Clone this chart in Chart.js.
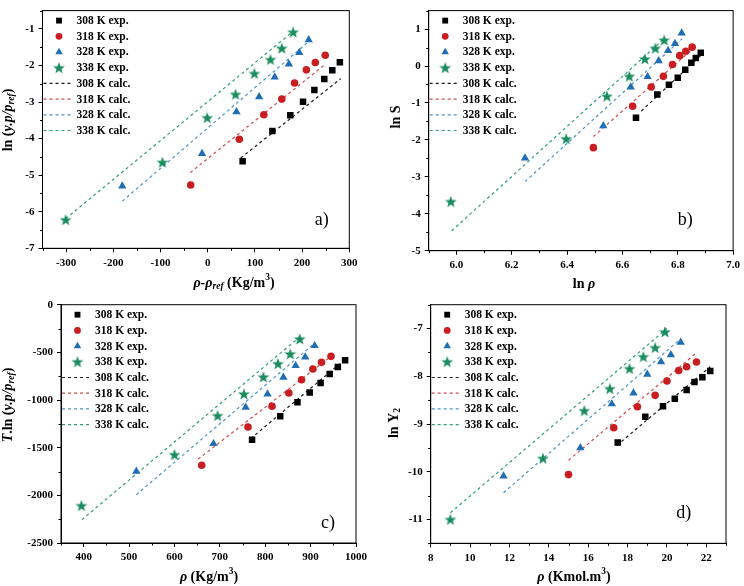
<!DOCTYPE html>
<html>
<head>
<meta charset="utf-8">
<script src="https://cdn.jsdelivr.net/npm/chart.js@4.4.1/dist/chart.umd.min.js"></script>
<style>
  html, body { margin: 0; padding: 0; background: #fff; }
  #wrap { position: relative; width: 744px; height: 586px; overflow: hidden; }
  canvas { position: absolute; }
</style>
</head>
<body>
<div id="wrap">
  <canvas id="chartA" width="372" height="293" style="left:0;top:0"></canvas>
  <canvas id="chartB" width="372" height="293" style="left:372px;top:0"></canvas>
  <canvas id="chartC" width="372" height="293" style="left:0;top:293px"></canvas>
  <canvas id="chartD" width="372" height="293" style="left:372px;top:293px"></canvas>
</div>
<script>
// series names
const temps = ['308 K', '318 K', '328 K', '338 K'];

// a) ln(y.p/p_ref) vs rho - rho_ref
const aX308 = [74, 137, 175, 202, 226, 247, 264, 280];
const aY308 = [-4.62, -3.79, -3.36, -2.99, -2.67, -2.37, -2.13, -1.91];
const aX318 = [-36, 67, 119, 157, 184, 209, 228, 249];
const aY318 = [-5.27, -4.02, -3.35, -2.92, -2.48, -2.12, -1.92, -1.72];
const aX328 = [-181, -12, 61, 109, 142, 172, 194, 214];
const aY328 = [-5.30, -4.41, -3.27, -2.86, -2.32, -1.96, -1.65, -1.30];
const aX338 = [-301, -96, -1, 59, 99, 133, 157, 181];
const aY338 = [-6.22, -4.65, -3.43, -2.79, -2.22, -1.84, -1.53, -1.09];
const aCalcX308 = [70, 282], aCalcY308 = [-4.53, -2.36];
const aCalcX318 = [-37, 247], aCalcY318 = [-4.93, -1.99];
const aCalcX328 = [-181, 211], aCalcY328 = [-5.71, -1.38];
const aCalcX338 = [-301, 177], aCalcY338 = [-6.19, -1.11];
const aXTicks = [-300, -200, -100, 0, 100, 200, 300];
const aYTicks = [-7, -6, -5, -4, -3, -2, -1];

// b) ln S vs ln rho
const bX308 = [6.649, 6.726, 6.768, 6.800, 6.827, 6.849, 6.865, 6.883];
const bY308 = [-1.40, -0.77, -0.51, -0.32, -0.10, 0.09, 0.22, 0.36];
const bX318 = [6.495, 6.637, 6.704, 6.748, 6.781, 6.807, 6.829, 6.852];
const bY318 = [-2.21, -1.09, -0.57, -0.28, 0.04, 0.28, 0.40, 0.51];
const bX328 = [6.248, 6.531, 6.630, 6.691, 6.731, 6.765, 6.790, 6.814];
const bY328 = [-2.49, -1.62, -0.57, -0.29, 0.14, 0.42, 0.61, 0.89];
const bX338 = [5.980, 6.397, 6.544, 6.625, 6.681, 6.719, 6.751];
const bY338 = [-3.67, -1.97, -0.82, -0.28, 0.19, 0.48, 0.70];
const bCalcX308 = [6.668, 6.885], bCalcY308 = [-1.22, 0.30];
const bCalcX318 = [6.495, 6.852], bCalcY318 = [-1.91, 0.45];
const bCalcX328 = [6.248, 6.816], bCalcY328 = [-3.13, 0.74];
const bCalcX338 = [5.983, 6.745], bCalcY338 = [-4.46, 0.70];
const bXTicks = [6.0, 6.2, 6.4, 6.6, 6.8, 7.0];
const bYTicks = [-5, -4, -3, -2, -1, 0, 1];

// c) T.ln(y.p/p_ref) vs rho (Kg/m3)
const cX308 = [771, 833, 871, 898, 922, 942, 960, 976];
const cY308 = [-1416, -1171, -1024, -920, -822, -727, -654, -584];
const cX318 = [660, 762, 815, 852, 880, 905, 924, 945];
const cY318 = [-1685, -1283, -1066, -927, -787, -675, -605, -542];
const cX328 = [516, 686, 757, 805, 840, 867, 888, 909];
const cY328 = [-1748, -1458, -1077, -937, -762, -640, -549, -430];
const cX338 = [395, 600, 695, 753, 796, 828, 855, 876];
const cY338 = [-2108, -1573, -1164, -937, -759, -619, -517, -360];
const cCalcX308 = [768, 978], cCalcY308 = [-1405, -565];
const cCalcX318 = [652, 948], cCalcY318 = [-1620, -530];
const cCalcX328 = [516, 905], cCalcY328 = [-1993, -420];
const cCalcX338 = [396, 878], cCalcY338 = [-2255, -330];
const cXTicks = [400, 500, 600, 700, 800, 900, 1000];
const cYTicks = [-2500, -2000, -1500, -1000, -500, 0];

// d) ln Y2 vs rho (Kmol.m3)
const dX308 = [17.5, 18.9, 19.8, 20.4, 21.0, 21.4, 21.8, 22.2];
const dY308 = [-9.39, -8.85, -8.63, -8.47, -8.29, -8.12, -8.02, -7.89];
const dX318 = [15.0, 17.3, 18.5, 19.4, 20.0, 20.6, 21.0, 21.5];
const dY318 = [-10.06, -9.08, -8.64, -8.40, -8.10, -7.88, -7.80, -7.70];
const dX328 = [11.7, 15.6, 17.2, 18.3, 19.0, 19.7, 20.2, 20.7];
const dY328 = [-10.09, -9.50, -8.58, -8.35, -7.96, -7.70, -7.55, -7.29];
const dX338 = [9.0, 13.7, 15.8, 17.1, 18.1, 18.8, 19.4, 19.9];
const dY338 = [-11.0, -9.72, -8.72, -8.26, -7.84, -7.59, -7.40, -7.07];
const dCalcX308 = [17.45, 22.2], dCalcY308 = [-9.45, -7.80];
const dCalcX318 = [15.0, 21.5], dCalcY318 = [-9.76, -7.51];
const dCalcX328 = [11.7, 20.6], dCalcY328 = [-10.44, -7.25];
const dCalcX338 = [9.0, 20.0], dCalcY338 = [-10.86, -7.0];
const dXTicks = [8, 10, 12, 14, 16, 18, 20, 22];
const dYTicks = [-11, -10, -9, -8, -7];

const FONT = "'Liberation Serif', 'Times New Roman', serif";
Chart.defaults.font.family = FONT;
Chart.defaults.font.weight = 'bold';
Chart.defaults.font.size = 11;
Chart.defaults.color = '#000';

const expColors = ['#000000', '#c81e22', '#1f6db3', '#1b8c5e'];
const calcColors = ['#1a1a1a', '#d24a4c', '#4a93c9', '#2f9e7a'];

// filled five point star for the 338 K markers
function makeStar(color) {
  const c = document.createElement('canvas');
  c.width = 14; c.height = 14;
  const g = c.getContext('2d');
  g.beginPath();
  for (let i = 0; i < 10; i++) {
    const r = i % 2 ? 2.6 : 6.2;
    const a = -Math.PI / 2 + i * Math.PI / 5;
    g.lineTo(7 + r * Math.cos(a), 7.5 + r * Math.sin(a));
  }
  g.closePath();
  g.fillStyle = color;
  g.fill();
  return c;
}
const markerStyles = ['rect', 'circle', 'triangle', makeStar(expColors[3])];
const markerRadii = [4.6, 3.8, 4.8, 6];

function pts(xs, ys) {
  return xs.map((x, i) => ({ x: x, y: ys[i] }));
}

function buildDatasets(expX, expY, calcX, calcY) {
  const ds = [];
  temps.forEach((t, i) => ds.push({
    label: t + ' exp.',
    data: pts(expX[i], expY[i]),
    showLine: false,
    pointStyle: markerStyles[i],
    pointRadius: markerRadii[i],
    pointBorderWidth: 0,
    backgroundColor: expColors[i],
    borderColor: expColors[i]
  }));
  temps.forEach((t, i) => ds.push({
    label: t + ' calc.',
    data: pts(calcX[i], calcY[i]),
    showLine: true,
    borderColor: calcColors[i],
    borderWidth: 1.2,
    borderDash: [3, 3],
    pointRadius: 0
  }));
  return ds;
}

function segFont(s) {
  const small = s.sub || s.sup;
  return (s.it ? 'italic ' : '') + 'bold ' + (small ? 9.5 : 14) + 'px ' + FONT;
}

function drawRich(ctx, segs, cx, cy, rotate) {
  ctx.save();
  ctx.translate(cx, cy);
  if (rotate) ctx.rotate(-Math.PI / 2);
  ctx.textAlign = 'left';
  ctx.textBaseline = 'middle';
  ctx.fillStyle = '#000';
  let total = 0;
  segs.forEach(s => { ctx.font = segFont(s); total += ctx.measureText(s.t).width; });
  let x = -total / 2;
  segs.forEach(s => {
    ctx.font = segFont(s);
    const dy = s.sub ? 4 : (s.sup ? -5 : 0);
    ctx.fillText(s.t, x, dy);
    x += ctx.measureText(s.t).width;
  });
  ctx.restore();
}

// frame, minor ticks, in-plot legend, axis titles and panel tag
function decorPlugin(cfg) {
  return {
    id: 'decor',
    afterDatasetsDraw(chart) {
      const { ctx, chartArea } = chart;
      ctx.save();
      ctx.textBaseline = 'middle';
      ctx.textAlign = 'left';
      chart.data.datasets.forEach((ds, i) => {
        const y = chartArea.top + 10 + i * 15.7;
        if (ds.showLine) {
          ctx.strokeStyle = ds.borderColor;
          ctx.lineWidth = 1.2;
          ctx.setLineDash([3, 3]);
          ctx.beginPath();
          ctx.moveTo(chartArea.left + 1, y);
          ctx.lineTo(chartArea.left + 30, y);
          ctx.stroke();
          ctx.setLineDash([]);
        } else {
          ctx.fillStyle = ds.backgroundColor;
          Chart.helpers.drawPoint(ctx, {
            pointStyle: ds.pointStyle, radius: ds.pointRadius * 0.9, borderWidth: 0, rotation: 0
          }, chartArea.left + 16.5, y);
        }
        ctx.fillStyle = '#000';
        ctx.font = 'bold 11.5px ' + FONT;
        ctx.fillText(ds.label, chartArea.left + 34, y + 0.5);
      });
      ctx.restore();
    },
    afterDraw(chart) {
      const { ctx, chartArea } = chart;
      const xs = chart.scales.x, ys = chart.scales.y;
      ctx.save();
      ctx.strokeStyle = '#000';
      ctx.lineWidth = 1;
      ctx.strokeRect(chartArea.left, chartArea.top, chartArea.right - chartArea.left, chartArea.bottom - chartArea.top);
      // minor ticks half way between the labelled ones
      ctx.beginPath();
      const xt = cfg.xTicks, yt = cfg.yTicks;
      const xh = (xt[1] - xt[0]) / 2, yh = (yt[1] - yt[0]) / 2;
      for (let v = xt[0] - xh; v <= xs.max + 1e-9; v += 2 * xh) {
        if (v < xs.min - 1e-9) continue;
        const p = Math.round(xs.getPixelForValue(v)) + 0.5;
        ctx.moveTo(p, chartArea.bottom);
        ctx.lineTo(p, chartArea.bottom + 2.5);
      }
      for (let v = yt[0] - yh; v <= ys.max + 1e-9; v += 2 * yh) {
        if (v < ys.min - 1e-9) continue;
        const p = Math.round(ys.getPixelForValue(v)) + 0.5;
        ctx.moveTo(chartArea.left, p);
        ctx.lineTo(chartArea.left - 2.5, p);
      }
      ctx.stroke();
      ctx.restore();

      drawRich(ctx, cfg.xTitle, cfg.xTitlePos[0], cfg.xTitlePos[1], false);
      drawRich(ctx, cfg.yTitle, cfg.yTitlePos[0], cfg.yTitlePos[1], true);

      ctx.save();
      ctx.font = '18px ' + FONT;
      ctx.fillStyle = '#000';
      ctx.textAlign = 'center';
      ctx.textBaseline = 'middle';
      ctx.fillText(cfg.tag, cfg.tagPos[0], cfg.tagPos[1]);
      ctx.restore();
    }
  };
}

function axis(range, ticks, dec, fit) {
  return {
    type: 'linear',
    min: range[0],
    max: range[1],
    afterBuildTicks: s => { s.ticks = ticks.map(v => ({ value: v })); },
    afterFit: fit,
    ticks: {
      autoSkip: false,
      maxRotation: 0,
      padding: 4,
      color: '#000',
      font: { size: 11, weight: 'bold', family: FONT },
      callback: v => Number(v).toFixed(dec)
    },
    grid: { display: true, drawOnChartArea: false, drawTicks: true, tickLength: 4, color: '#000', tickColor: '#000' },
    border: { display: true, color: '#000', width: 1 }
  };
}

function makePanel(id, cfg) {
  const W = 372, H = 293, a = cfg.area;
  new Chart(document.getElementById(id), {
    type: 'scatter',
    data: { datasets: buildDatasets(cfg.expX, cfg.expY, cfg.calcX, cfg.calcY) },
    options: {
      responsive: false,
      animation: false,
      layout: { padding: { left: 0, top: a.top, right: W - a.right, bottom: 0 } },
      plugins: { legend: { display: false }, tooltip: { enabled: false } },
      scales: {
        x: axis(cfg.xRange, cfg.xTicks, cfg.xDec, s => { s.height = H - a.bottom; }),
        y: axis(cfg.yRange, cfg.yTicks, 0, s => { s.width = a.left; })
      }
    },
    plugins: [decorPlugin(cfg)]
  });
}

makePanel('chartA', {
  expX: [aX308, aX318, aX328, aX338], expY: [aY308, aY318, aY328, aY338],
  calcX: [aCalcX308, aCalcX318, aCalcX328, aCalcX338], calcY: [aCalcY308, aCalcY318, aCalcY328, aCalcY338],
  xRange: [-350, 300], yRange: [-7, -0.5], xTicks: aXTicks, yTicks: aYTicks, xDec: 0,
  area: { left: 42.5, right: 349.3, top: 0, bottom: 248.3 },
  xTitle: [{ t: 'ρ-ρ', it: true }, { t: 'ref', it: true, sub: true }, { t: ' (Kg/m' }, { t: '3', sup: true }, { t: ')' }],
  xTitlePos: [234, 283],
  yTitle: [{ t: 'ln (' }, { t: 'y.p/p', it: true }, { t: 'ref', it: true, sub: true }, { t: ')' }],
  yTitlePos: [8, 120],
  tag: 'a)', tagPos: [321.7, 220]
});

makePanel('chartB', {
  expX: [bX308, bX318, bX328, bX338], expY: [bY308, bY318, bY328, bY338],
  calcX: [bCalcX308, bCalcX318, bCalcX328, bCalcX338], calcY: [bCalcY308, bCalcY318, bCalcY328, bCalcY338],
  xRange: [5.9, 7.0], yRange: [-5, 1.5], xTicks: bXTicks, yTicks: bYTicks, xDec: 1,
  area: { left: 56.7, right: 364, top: 2.6, bottom: 250.7 },
  xTitle: [{ t: 'ln ' }, { t: 'ρ', it: true }],
  xTitlePos: [212, 284],
  yTitle: [{ t: 'ln S' }],
  yTitlePos: [24, 117],
  tag: 'b)', tagPos: [313.3, 220]
});

makePanel('chartC', {
  expX: [cX308, cX318, cX328, cX338], expY: [cY308, cY318, cY328, cY338],
  calcX: [cCalcX308, cCalcX318, cCalcX328, cCalcX338], calcY: [cCalcY308, cCalcY318, cCalcY328, cCalcY338],
  xRange: [350, 1000], yRange: [-2500, 0], xTicks: cXTicks, yTicks: cYTicks, xDec: 0,
  area: { left: 61, right: 356, top: 11.7, bottom: 250 },
  xTitle: [{ t: 'ρ', it: true }, { t: ' (Kg/m' }, { t: '3', sup: true }, { t: ')' }],
  xTitlePos: [209, 284],
  yTitle: [{ t: 'T', it: true }, { t: '.ln (' }, { t: 'y.p/p', it: true }, { t: 'ref', it: true, sub: true }, { t: ')' }],
  yTitlePos: [8, 112],
  tag: 'c)', tagPos: [328, 230]
});

makePanel('chartD', {
  expX: [dX308, dX318, dX328, dX338], expY: [dY308, dY318, dY328, dY338],
  calcX: [dCalcX308, dCalcX318, dCalcX328, dCalcX338], calcY: [dCalcY308, dCalcY318, dCalcY328, dCalcY338],
  xRange: [8, 23], yRange: [-11.5, -6.5], xTicks: dXTicks, yTicks: dYTicks, xDec: 0,
  area: { left: 58.7, right: 354, top: 11.7, bottom: 250.3 },
  xTitle: [{ t: 'ρ', it: true }, { t: ' (Kmol.m' }, { t: '3', sup: true }, { t: ')' }],
  xTitlePos: [202, 284],
  yTitle: [{ t: 'ln Y' }, { t: '2', sub: true }],
  yTitlePos: [22, 130],
  tag: 'd)', tagPos: [311.7, 220]
});
</script>
</body>
</html>
